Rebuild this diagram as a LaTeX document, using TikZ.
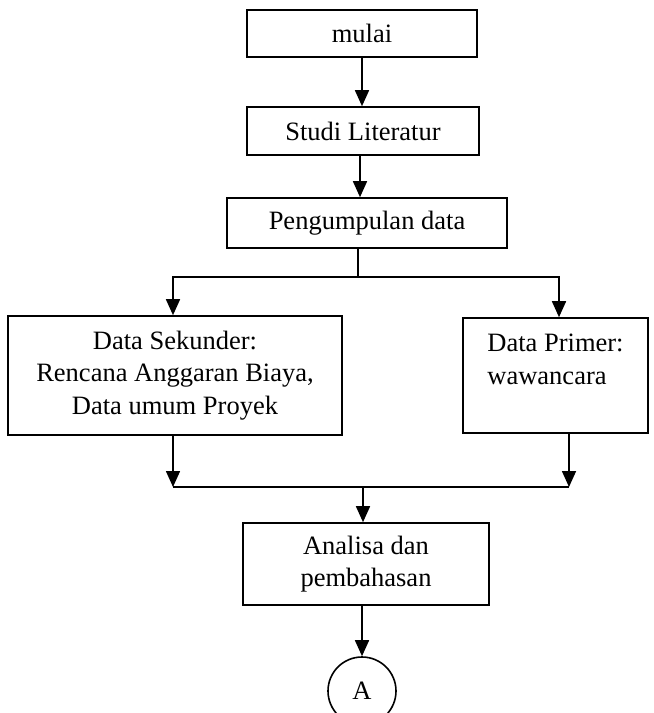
\documentclass[tikz,border=0pt]{standalone}
\usepackage{fontspec}
\setmainfont{Liberation Serif}
\usetikzlibrary{arrows.meta,calc}
\begin{document}
\begin{tikzpicture}[x=1bp,y=-1bp,
  every node/.style={font=\fontsize{26.5bp}{32.5bp}\selectfont},
  box/.style={draw,line width=1.6bp,inner sep=3bp},
  arr/.style={-{Triangle[length=16bp,width=14bp]},line width=1.6bp},
  ln/.style={line width=1.6bp}]
\path[use as bounding box] (0,0) rectangle (654,713);
\clip (0,0) rectangle (654,713);
\node[box,minimum width=230bp,minimum height=47bp] (mulai) at (362,33.5) {mulai};
\node[box,minimum width=232bp,minimum height=48bp] (studi) at (363,131) {Studi Literatur};
\node[box,minimum width=280bp,minimum height=50bp] (peng) at (367,223) {Pengumpulan data};
\node[box,minimum width=334bp,minimum height=119bp,align=center] (sek) at (175,375.5)
  {Data Sekunder:\\Rencana Anggaran Biaya,\\Data umum Proyek};
\node[box,minimum width=185bp,minimum height=115bp,align=left] (pri) at (555.5,375.5)
  {Data Primer:\\wawancara\\\mbox{}};
\node[box,minimum width=246bp,minimum height=82bp,align=center] (ana) at (366,564)
  {Analisa dan\\pembahasan};
\node[draw,circle,line width=1.6bp,minimum size=68bp,inner sep=0pt] (A) at (362,691) {A};
\coordinate (split) at (358,277);
\coordinate (merge) at (363,487);
\draw[arr] (mulai.south) -- (mulai.south |- studi.north);
\draw[arr] ([xshift=-3bp]studi.south) -- ([xshift=-3bp]studi.south |- peng.north);
\draw[ln] (peng.south -| split) -- (split);
\draw[arr] (split) -| ([xshift=-2bp]sek.north);
\draw[arr] (split) -| ([xshift=3.5bp]pri.north);
\draw[arr] ([xshift=-2bp]sek.south) -- ([xshift=-2bp]sek.south |- merge);
\draw[arr] ([xshift=13.5bp]pri.south) -- ([xshift=13.5bp]pri.south |- merge);
\draw[ln] ([xshift=-2bp]sek.south |- merge) -- ([xshift=13.5bp]pri.south |- merge);
\draw[arr] (merge) -- (merge |- ana.north);
\draw[arr] (ana.south -| A) -- (A.north);
\end{tikzpicture}
\end{document}
